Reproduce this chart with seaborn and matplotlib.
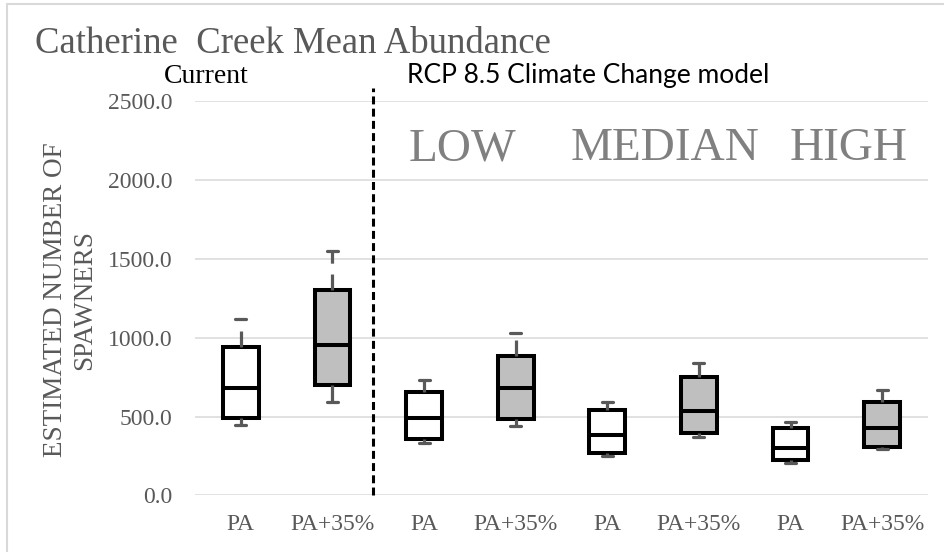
import numpy as np
import pandas as pd
import seaborn as sns
import matplotlib.pyplot as plt
from matplotlib.patches import Rectangle

# box slots, left to right
slots = ["Current PA", "Current PA+35%", "Low PA", "Low PA+35%",
         "Median PA", "Median PA+35%", "High PA", "High PA+35%"]
treatment = ["PA", "PA+35%"] * 4
tick_labels = ["PA", "PA+35%"] * 4
scenario_labels = ["LOW", "MEDIAN", "HIGH"]

# five-number summaries
whisker_low = [447, 595, 331, 441, 252, 369, 208, 295]
q1 = [493, 699, 358, 487, 271, 394, 225, 306]
median = [683, 952, 491, 680, 384, 536, 299, 426]
q3 = [943, 1303, 658, 886, 542, 749, 430, 591]
whisker_high = [1119, 1550, 732, 1028, 591, 842, 468, 669]

# long table: with 5 points per box and whis=(0, 100) the drawn stats are exact
rows = []
for i, s in enumerate(slots):
    for v in (whisker_low[i], q1[i], median[i], q3[i], whisker_high[i]):
        rows.append({"slot": s, "treatment": treatment[i], "spawners": v})
df = pd.DataFrame(rows)

sns.set_style("white")
plt.rcParams["font.family"] = ["Liberation Serif", "DejaVu Serif"]

GRAY_TXT = "#595959"
WHISK = "#595959"

fig, ax = plt.subplots(figsize=(9.45, 5.52), dpi=100)
fig.subplots_adjust(left=0.2063, right=0.982, bottom=0.1024, top=0.817)

sns.boxplot(data=df, x="slot", y="spawners", hue="treatment", dodge=False,
            palette={"PA": "white", "PA+35%": "#bfbfbf"}, width=0.39,
            whis=(0, 100), showfliers=False, linewidth=2.9, linecolor="black",
            legend=False, ax=ax,
            whiskerprops=dict(color=WHISK, linewidth=2.3,
                              linestyle=(0, (5, 3.4))),
            capprops=dict(color=WHISK, linewidth=2.3),
            medianprops=dict(color="black", linewidth=2.9))

# narrow the caps
for ln in ax.lines:
    x, y = ln.get_xdata(), ln.get_ydata()
    if len(x) == 2 and y[0] == y[1] and ln.get_color() == WHISK:
        c = (x[0] + x[1]) / 2
        ln.set_xdata([c - 0.06, c + 0.06])

ax.set_xlim(-0.5, 7.5)
ax.set_ylim(0, 2500)
ax.set_yticks(np.arange(0, 2501, 500))
ax.yaxis.set_major_formatter("{x:.1f}")
ax.set_xticks(range(len(slots)))
ax.set_xticklabels(tick_labels)
ax.tick_params(axis="y", length=0, pad=16, labelsize=17, labelcolor=GRAY_TXT)
ax.tick_params(axis="x", length=0, pad=13, labelsize=17, labelcolor=GRAY_TXT)
ax.set_xlabel("")
ax.set_ylabel("")
ax.yaxis.grid(True, color="#d9d9d9", linewidth=1.1)
ax.set_axisbelow(True)
sns.despine(ax=ax, left=True, bottom=True)

# divider between current and climate-change runs
ax.vlines(1.44, 0, 2580, colors="black", linewidth=2.2,
          linestyles=(0, (2.6, 1.4)), clip_on=False, zorder=5)

fig.text(0.074, 0.4565, "ESTIMATED NUMBER OF\nSPAWNERS", rotation=90,
         ha="center", va="center", multialignment="center",
         fontsize=19.5, color=GRAY_TXT)

fig.text(0.037, 0.904, "Catherine  Creek Mean Abundance", ha="left",
         va="baseline", fontsize=26.5, color=GRAY_TXT)
fig.text(0.218, 0.8496, "Current", ha="center", va="baseline",
         fontsize=20, color="black")
fig.text(0.4304, 0.8496, "RCP 8.5 Climate Change model", ha="left",
         va="baseline", fontsize=19, color="black", family=["Lato", "DejaVu Sans"])

for lab, xc in zip(scenario_labels, [0.489, 0.704, 0.898]):
    fig.text(xc, 0.710, lab, ha="center", va="baseline", fontsize=34,
             color="#808080")

# chart-area border (only top and left visible in the crop)
fig.add_artist(Rectangle((7 / 945, -0.2), 1.5, (552 - 4) / 552 + 0.2,
                         transform=fig.transFigure, fill=False,
                         edgecolor="#d9d9d9", linewidth=1.5))

fig.savefig("out.png", dpi=100)
